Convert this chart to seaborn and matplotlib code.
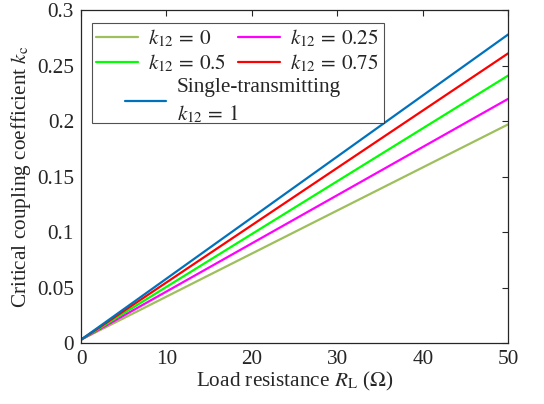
import numpy as np
import pandas as pd
import seaborn as sns
import matplotlib
matplotlib.use("Agg")
import matplotlib.pyplot as plt
from matplotlib.lines import Line2D

sns.set_theme(style="white")
plt.rcParams['font.family'] = ['Liberation Serif', 'DejaVu Serif']
plt.rcParams['mathtext.fontset'] = 'stix'

# Data
load_resistance = [0, 50]
k_0 = [0.003, 0.197]
k_025 = [0.003, 0.220]
k_05 = [0.003, 0.241]
k_075 = [0.003, 0.261]
k_single = [0.003, 0.278]

label_0 = r"$k_{12}\,=\,0$"
label_025 = r"$k_{12}\,=\,0.25$"
label_05 = r"$k_{12}\,=\,0.5$"
label_075 = r"$k_{12}\,=\,0.75$"
label_single = "Single-transmitting\n" + r"$k_{12}\,=\,1$"

series = [(k_0, label_0, "#9dbf5c"), (k_025, label_025, "#ff00ff"),
          (k_05, label_05, "#00ff00"), (k_075, label_075, "#ff0000"),
          (k_single, label_single, "#0072bd")]

FS = 15.3
fig = plt.figure(figsize=(5.44, 4.04), dpi=100)
ax = fig.add_axes([0.149, 0.151, 0.785, 0.824])

handles = {}
for vals, lab, col in series:
    df = pd.DataFrame({"RL": load_resistance, "kc": vals})
    sns.lineplot(data=df, x="RL", y="kc", ax=ax, color=col, linewidth=1.6, legend=False)
    handles[lab] = Line2D([], [], color=col, linewidth=1.6)

ax.set_xlim(0, 50)
ax.set_ylim(0, 0.3)
ax.set_xticks([0, 10, 20, 30, 40, 50])
ax.set_yticks([0, 0.05, 0.1, 0.15, 0.2, 0.25, 0.3])
ax.set_yticklabels(["0", "0.05", "0.1", "0.15", "0.2", "0.25", "0.3"])
ax.tick_params(direction="in", top=True, right=True, length=4, width=0.8,
               labelsize=FS, colors="#262626", pad=5)
for s in ax.spines.values():
    s.set_color("#262626")
    s.set_linewidth(0.9)
ax.set_xlabel(r"Load resistance $R_\mathrm{L}$ ($\Omega$)", fontsize=FS, labelpad=1)
ax.set_ylabel(r"Critical coupling coefficient $k_\mathrm{c}$", fontsize=FS, labelpad=3)

blank = Line2D([], [], color="none")
leg1 = ax.legend([handles[label_0], handles[label_05], blank,
                  handles[label_025], handles[label_075], blank],
                 [label_0, label_05, " \n ", label_025, label_075, " "],
                 loc="upper left", bbox_to_anchor=(0.026, 0.961), ncol=2,
                 fontsize=FS, frameon=True, fancybox=False, edgecolor="#262626",
                 borderaxespad=0, handlelength=1.95, columnspacing=0.55,
                 labelspacing=0.18, handletextpad=0.5, borderpad=0.2)
leg1.get_frame().set_linewidth(0.8)
ax.add_artist(leg1)

leg2 = ax.legend([handles[label_single]], [label_single],
                 loc="upper left", bbox_to_anchor=(0.103, 0.795),
                 fontsize=FS, frameon=False, borderaxespad=0, borderpad=0,
                 handlelength=1.95, handletextpad=0.5, labelspacing=0.1)
for t in leg2.get_texts():
    t.set_linespacing(1.35)

fig.savefig("out.png", dpi=100)
